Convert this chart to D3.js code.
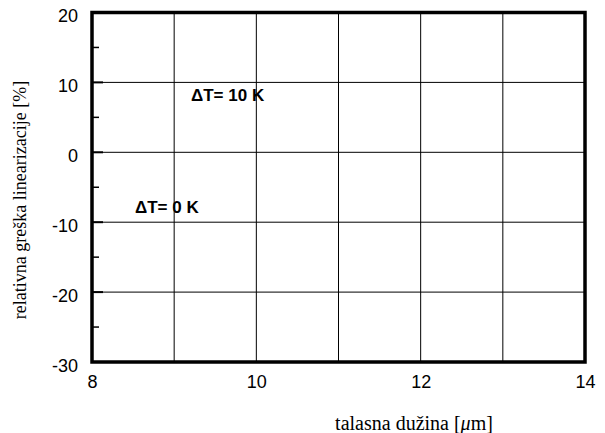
<!DOCTYPE html>
<html>
<head>
<meta charset="utf-8">
<script src="https://cdn.jsdelivr.net/npm/d3@7"></script>
<style>
  html, body { margin: 0; padding: 0; background: #fff; }
  svg { display: block; }
  .sans { font-family: "Liberation Sans", Arial, sans-serif; }
  .serif { font-family: "Liberation Serif", "Times New Roman", serif; }
</style>
</head>
<body>
<svg id="chart" width="605" height="433"></svg>
<script>
// Axis domains and tick values
const xDomain = [8, 14];
const yDomain = [-30, 20];
const xTickValues = [8, 10, 12, 14];
const xGridValues = [9, 10, 11, 12, 13];
const yTickValues = [-30, -20, -10, 0, 10, 20];
const yGridValues = [-20, -10, 0, 10];
const yMinorValues = [-25, -15, -5, 5, 15];

// Curve labels, placed in data units
const labelTexts = ["\u0394T= 10 K", "\u0394T= 0 K"];
const labelX = [9.205, 8.523];
const labelY = [7.34, -8.73];

const xTitle = "talasna du\u017Eina [";
const yTitle = "relativna gre\u0161ka linearizacije [%]";

const svg = d3.select("#chart");
const plot = { left: 92, right: 585, top: 12.5, bottom: 362 };

const x = d3.scaleLinear().domain(xDomain).range([plot.left, plot.right]);
const y = d3.scaleLinear().domain(yDomain).range([plot.bottom, plot.top]);

// Plain hyphen-minus for negative tick labels
const fmt = d => String(d);

// Grid lines
const grid = svg.append("g").attr("stroke", "#000").attr("stroke-width", 1);
grid.selectAll("line.vx").data(xGridValues).join("line")
  .attr("x1", d => x(d)).attr("x2", d => x(d))
  .attr("y1", plot.top).attr("y2", plot.bottom);
grid.selectAll("line.hy").data(yGridValues).join("line")
  .attr("x1", plot.left).attr("x2", plot.right)
  .attr("y1", d => y(d)).attr("y2", d => y(d));

// Inward ticks on the left axis
const ticks = svg.append("g").attr("stroke", "#000");
ticks.selectAll("line.minor").data(yMinorValues).join("line")
  .attr("stroke-width", 1.5)
  .attr("x1", plot.left).attr("x2", plot.left + 7)
  .attr("y1", d => y(d)).attr("y2", d => y(d));
ticks.selectAll("line.major").data(yGridValues).join("line")
  .attr("stroke-width", 2)
  .attr("x1", plot.left).attr("x2", plot.left + 11)
  .attr("y1", d => y(d)).attr("y2", d => y(d));

// Frame
svg.append("rect")
  .attr("x", plot.left).attr("y", plot.top)
  .attr("width", plot.right - plot.left).attr("height", plot.bottom - plot.top)
  .attr("fill", "none").attr("stroke", "#000").attr("stroke-width", 3.5);

// Tick labels via d3 axes (lines hidden, frame drawn above)
const yAxis = d3.axisLeft(y).tickValues(yTickValues).tickSize(0).tickPadding(14)
  .tickFormat(fmt);
const gy = svg.append("g").attr("transform", `translate(${plot.left},0)`).call(yAxis);
gy.select(".domain").remove();
gy.attr("font-family", null).attr("font-size", null);
gy.selectAll("text")
  .attr("class", "sans")
  .attr("font-size", 18).attr("fill", "#000")
  .attr("dy", "0.72em").attr("y", -3.5);

const xAxis = d3.axisBottom(x).tickValues(xTickValues).tickSize(0).tickPadding(13)
  .tickFormat(fmt);
const gx = svg.append("g").attr("transform", `translate(0,${plot.bottom})`).call(xAxis);
gx.select(".domain").remove();
gx.attr("font-family", null).attr("font-size", null);
gx.selectAll("text")
  .attr("class", "sans")
  .attr("font-size", 18).attr("fill", "#000");

// Curve labels
svg.append("g").selectAll("text").data(labelTexts).join("text")
  .attr("class", "sans")
  .attr("x", (d, i) => x(labelX[i]))
  .attr("y", (d, i) => y(labelY[i]))
  .attr("font-weight", "bold").attr("font-size", 17)
  .text(d => d);

// Axis titles
const xt = svg.append("text")
  .attr("class", "serif")
  .attr("x", 414).attr("y", 430)
  .attr("text-anchor", "middle")
  .attr("font-size", 20);
xt.append("tspan").text(xTitle);
xt.append("tspan").attr("font-style", "italic").text("\u03BC");
xt.append("tspan").text("m]");

svg.append("text")
  .attr("class", "serif")
  .attr("transform", "translate(26,200) rotate(-90)")
  .attr("text-anchor", "middle")
  .attr("font-size", 18)
  .text(yTitle);
</script>
</body>
</html>
